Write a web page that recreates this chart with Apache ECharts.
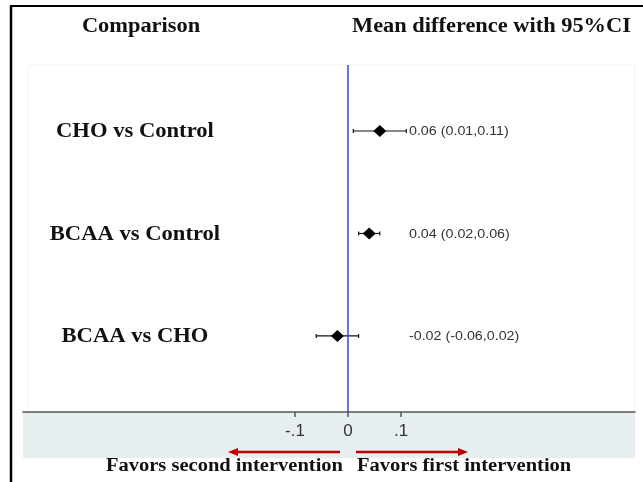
<!DOCTYPE html>
<html>
<head>
<meta charset="utf-8">
<script src="https://cdn.jsdelivr.net/npm/echarts@6/dist/echarts.min.js"></script>
<style>
  html, body { margin: 0; padding: 0; background: #fff; }
  #main { width: 643px; height: 482px; }
</style>
</head>
<body>
<div id="main"></div>
<script>
// comparisons, top to bottom
var comparisons = ['CHO vs Control', 'BCAA vs Control', 'BCAA vs CHO'];
var means = [0.06, 0.04, -0.02];
var lower = [0.01, 0.02, -0.06];
var upper = [0.11, 0.06, 0.02];
var tickValues = [-0.1, 0, 0.1];
var tickLabels = ['-.1', '0', '.1'];

var labelX = 0.115;   // column where the estimate text starts
var nameX = -0.402;   // centre of the comparison name column
var serif = '"Liberation Serif", "Times New Roman", serif';
var sans = 'Arial, "Liberation Sans", sans-serif';

var rows = comparisons.map(function (c, i) { return i + 1; });

var barData = rows.map(function (r, i) { return [r, lower[i], upper[i]]; });
var meanData = rows.map(function (r, i) { return [means[i], r]; });

function estText(i) {
  return means[i].toFixed(2) + ' (' + lower[i].toFixed(2) + ',' + upper[i].toFixed(2) + ')';
}

var dom = document.getElementById('main');
var myChart = echarts.init(dom, null, { renderer: 'canvas' });

// the original figure is stretched sideways, so serif text gets a scaleX
function wideText(x, y, text, font, align, sx) {
  return {
    type: 'text', x: x, y: y, scaleX: sx,
    style: { text: text, font: font, fill: '#111', align: align, verticalAlign: 'middle' }
  };
}

var option = {
  animation: false,
  backgroundColor: '#fff',
  grid: { left: 23, right: 8, top: 65, bottom: 70 },
  xAxis: {
    type: 'value',
    min: -0.6132,
    max: 0.5415,
    splitLine: { show: false },
    axisLine: { lineStyle: { color: '#555', width: 1.5 } },
    axisTick: {
      customValues: tickValues,
      length: 5,
      lineStyle: { color: '#555', width: 1.5 }
    },
    axisLabel: {
      customValues: tickValues,
      formatter: function (v) {
        var k = tickValues.indexOf(Math.round(v * 10) / 10);
        return k >= 0 ? tickLabels[k] : '';
      },
      color: '#333',
      fontSize: 17,
      fontFamily: sans,
      margin: 11
    }
  },
  yAxis: {
    type: 'value',
    inverse: true,
    min: 0.356,
    max: 3.742,
    show: false
  },
  graphic: [
    { type: 'rect', z: -10, shape: { x: 23, y: 412, width: 612, height: 46 },
      style: { fill: '#e7eef0' } },
    { type: 'rect', z: -10, shape: { x: 28, y: 65, width: 607, height: 347 },
      style: { fill: 'none', stroke: '#f2f2f2', lineWidth: 1 } },
    { type: 'line', shape: { x1: 11, y1: 6, x2: 11, y2: 482 },
      style: { stroke: '#000', lineWidth: 2.5 } },
    { type: 'line', shape: { x1: 10, y1: 6, x2: 643, y2: 6 },
      style: { stroke: '#000', lineWidth: 2 } },
    wideText(141, 27, 'Comparison', 'bold 20px ' + serif, 'center', 1.12),
    wideText(352, 27, 'Mean difference with 95%CI', 'bold 20px ' + serif, 'left', 1.12),
    { type: 'line', shape: { x1: 340, y1: 452, x2: 236, y2: 452 },
      style: { stroke: '#c00000', lineWidth: 2.5 } },
    { type: 'polygon', shape: { points: [[228, 452], [238, 448], [238, 456]] },
      style: { fill: '#c00000' } },
    { type: 'line', shape: { x1: 356, y1: 452, x2: 460, y2: 452 },
      style: { stroke: '#c00000', lineWidth: 2.5 } },
    { type: 'polygon', shape: { points: [[468, 452], [458, 448], [458, 456]] },
      style: { fill: '#c00000' } },
    wideText(343, 466, 'Favors second intervention', 'bold 18px ' + serif, 'right', 1.14),
    wideText(357, 466, 'Favors first intervention', 'bold 18px ' + serif, 'left', 1.14)
  ],
  series: [
    {
      type: 'custom',
      data: barData,
      renderItem: function (params, api) {
        var i = params.dataIndex;
        var r = api.value(0);
        var a = api.coord([api.value(1), r]);
        var b = api.coord([api.value(2), r]);
        var n = api.coord([nameX, r]);
        var t = api.coord([labelX, r]);
        var cap = 2;
        var st = { stroke: '#111', lineWidth: 1.2 };
        return {
          type: 'group',
          children: [
            { type: 'line', shape: { x1: a[0], y1: a[1], x2: b[0], y2: b[1] }, style: st },
            { type: 'line', shape: { x1: a[0], y1: a[1] - cap, x2: a[0], y2: a[1] + cap }, style: st },
            { type: 'line', shape: { x1: b[0], y1: b[1] - cap, x2: b[0], y2: b[1] + cap }, style: st },
            {
              type: 'text', x: n[0], y: n[1] + 1, scaleX: 1.13,
              style: { text: comparisons[i], font: 'bold 20px ' + serif, fill: '#111',
                align: 'center', verticalAlign: 'middle' }
            },
            {
              type: 'text', x: t[0], y: t[1] + 1, scaleX: 1.19,
              style: { text: estText(i), font: '12px ' + sans, fill: '#333',
                align: 'left', verticalAlign: 'middle' }
            }
          ]
        };
      },
      markLine: {
        silent: true,
        symbol: 'none',
        label: { show: false },
        lineStyle: { color: '#3340ff', width: 1.5, type: 'solid' },
        data: [{ xAxis: 0 }]
      }
    },
    {
      type: 'scatter',
      data: meanData,
      symbol: 'diamond',
      symbolSize: [13, 12],
      itemStyle: { color: '#000', opacity: 1 },
      z: 5
    }
  ]
};

if (option && typeof option === 'object') {
  myChart.setOption(option);
}

window.addEventListener('resize', myChart.resize);
</script>
</body>
</html>
